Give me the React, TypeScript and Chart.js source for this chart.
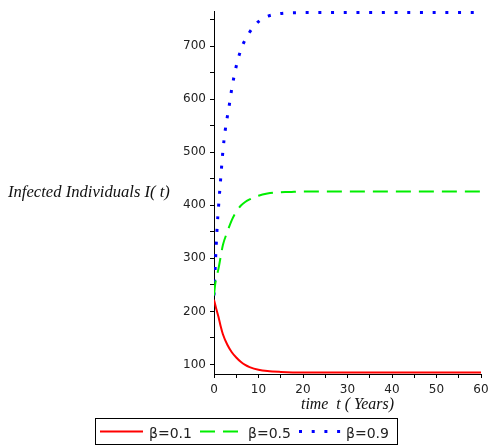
import React, { useEffect, useRef } from "react";
import { Chart, registerables } from "chart.js";

Chart.register(...registerables);

// Series: infected individuals I(t) for three beta values
const timeRed = [0, 0.5, 1, 1.5, 2, 3, 4, 5, 6, 7, 8, 10, 12, 15, 20, 60];
const valuesRed = [222, 205, 190, 172, 157, 137, 123, 113, 105, 99, 95, 90, 87.5, 86, 85, 85];

const timeGreen = [0, 0.25, 0.5, 1, 1.5, 2, 3, 4, 5, 6, 7, 8, 10, 12, 14, 17, 20, 60];
const valuesGreen = [230, 250, 262, 280, 303, 325, 350, 372, 388, 399, 406, 411, 418, 422, 424, 425, 426, 426];

const timeBlue = [0, 0.25, 0.5, 0.75, 1, 1.5, 2, 2.5, 3, 3.5, 4, 5, 6, 7, 8, 9, 10, 11, 12, 14, 16, 20, 60];
const valuesBlue = [230, 280, 325, 365, 395, 450, 502, 540, 567, 592, 620, 662, 692, 712, 726, 737, 746, 752, 756, 760, 762, 763, 763];

const seriesLabels = ["β=0.1", "β=0.5", "β=0.9"];
const yTitle = "Infected Individuals I( t)";
const xTitle = "time  t ( Years)";

const colors = ["#ff0000", "#00ee00", "#0000ff"];
const dashes: number[][] = [[], [15, 8], [3, 9.7]];
const widths = [2, 2, 3];

function zip(t: number[], v: number[]) {
  return t.map((x, i) => ({ x, y: v[i] }));
}

export default function App() {
  const ref = useRef<HTMLCanvasElement | null>(null);

  useEffect(() => {
    document.body.style.margin = "0";
    const canvas = ref.current;
    if (!canvas) return;

    const overlay = {
      id: "overlay",
      afterDraw(chart: any) {
        const ctx = chart.ctx as CanvasRenderingContext2D;
        ctx.save();
        ctx.fillStyle = "#111";
        ctx.textBaseline = "alphabetic";
        // y title
        ctx.font = "italic 15px 'Liberation Serif'";
        let w = ctx.measureText(yTitle).width;
        let fs = 15 * (162 / w);
        ctx.font = `italic ${fs.toFixed(2)}px 'Liberation Serif'`;
        ctx.textAlign = "left";
        ctx.fillText(yTitle, 8, 197);
        // x title
        ctx.font = "italic 14px 'Liberation Serif'";
        w = ctx.measureText(xTitle).width;
        fs = 14 * (93 / w);
        ctx.font = `italic ${fs.toFixed(2)}px 'Liberation Serif'`;
        ctx.textAlign = "center";
        const ca = chart.chartArea;
        ctx.fillText(xTitle, (ca.left + ca.right) / 2, 409);

        // legend
        ctx.strokeStyle = "#000";
        ctx.lineWidth = 1;
        ctx.setLineDash([]);
        ctx.strokeRect(95.5, 418.5, 302, 26);
        const lineX = [[100, 143], [200, 242], [299, 344]];
        const textX = [149, 248, 346];
        for (let i = 0; i < 3; i++) {
          ctx.beginPath();
          ctx.strokeStyle = colors[i];
          ctx.lineWidth = widths[i];
          ctx.lineCap = "butt";
          ctx.setLineDash(dashes[i]);
          ctx.moveTo(lineX[i][0], 431.5);
          ctx.lineTo(lineX[i][1], 431.5);
          ctx.stroke();
        }
        ctx.setLineDash([]);
        ctx.font = "14px 'DejaVu Sans'";
        ctx.textAlign = "left";
        ctx.fillStyle = "#222";
        for (let i = 0; i < 3; i++) {
          ctx.fillText(seriesLabels[i], textX[i], 438);
        }
        ctx.restore();
      },
    };

    const datasets = [
      { t: timeRed, v: valuesRed },
      { t: timeGreen, v: valuesGreen },
      { t: timeBlue, v: valuesBlue },
    ].map((s, i) => ({
      label: seriesLabels[i],
      data: zip(s.t, s.v),
      borderColor: colors[i],
      backgroundColor: colors[i],
      borderWidth: widths[i],
      borderDash: dashes[i],
      borderCapStyle: "butt" as const,
      pointRadius: 0,
      showLine: true,
      fill: false,
      cubicInterpolationMode: "monotone" as const,
    }));

    const chart = new Chart(canvas, {
      type: "scatter",
      data: { datasets },
      options: {
        animation: false,
        responsive: false,
        layout: { padding: { left: 0, top: 11, right: 8, bottom: 0 } },
        plugins: { legend: { display: false }, tooltip: { enabled: false } },
        scales: {
          x: {
            type: "linear",
            min: 0,
            max: 60,
            ticks: {
              stepSize: 5,
              autoSkip: false,
              maxRotation: 0,
              padding: 5,
              color: "#222",
              font: { family: "'DejaVu Sans'", size: 12 },
              callback: (v: any) => (Number(v) % 10 === 0 ? String(v) : ""),
            },
            grid: { drawOnChartArea: false, drawTicks: true, tickLength: 4, color: "#000" },
            border: { display: true, color: "#000", width: 1 },
            afterFit: (s: any) => {
              s.height = 74;
              s.paddingLeft = 0;
              s.paddingRight = 0;
            },
          },
          y: {
            type: "linear",
            min: 82,
            max: 766,
            ticks: {
              stepSize: 50,
              includeBounds: false,
              autoSkip: false,
              padding: 4,
              color: "#222",
              font: { family: "'DejaVu Sans'", size: 12 },
              callback: (v: any) => (Number(v) % 100 === 0 ? String(v) : ""),
            },
            grid: { drawOnChartArea: false, drawTicks: true, tickLength: 4, color: "#000" },
            border: { display: true, color: "#000", width: 1 },
            afterFit: (s: any) => {
              s.width = 214;
              s.paddingTop = 0;
              s.paddingBottom = 0;
            },
          },
        },
      },
      plugins: [overlay],
    });
    return () => chart.destroy();
  }, []);

  return (
    <div style={{ position: "absolute", left: 0, top: 0, width: 489, height: 448, background: "#fff" }}>
      <canvas ref={ref} width={489} height={448} />
    </div>
  );
}
